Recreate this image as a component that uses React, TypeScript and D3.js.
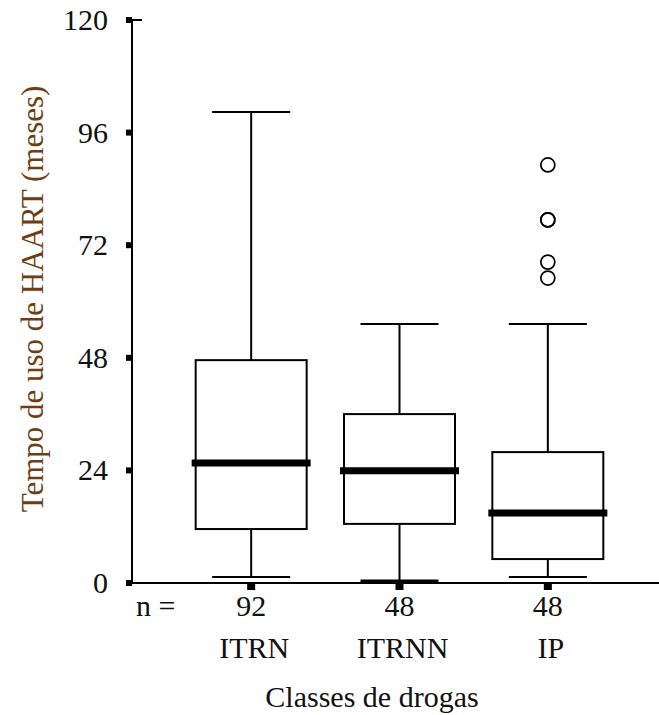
import React from 'react';
import * as d3 from 'd3';

const categories = ['ITRN', 'ITRNN', 'IP'];
const counts = [92, 48, 48];
const lowerWhisker = [1.3, 0.3, 1.3];
const q1 = [11.5, 12.6, 5.1];
const medians = [25.6, 23.9, 14.9];
const q3 = [47.5, 36.0, 27.9];
const upperWhisker = [100.4, 55.2, 55.2];
const outliers = [[], [], [89.1, 77.4, 77.4, 68.4, 65.0]];
const yTicks = [0, 24, 48, 72, 96, 120];

const FONT = 'Liberation Serif';
const FS = 30;
const W = 659;
const H = 715;
const axisX = 132;
const axisY = 583;

const y = d3.scaleLinear().domain([0, 120]).range([axisY, 20]);
const x = d3.scaleBand().domain(categories).range([177, 622]).padding(0);
const cx = (c: string) => (x(c) as number) + x.bandwidth() / 2;

const boxW = 111;
const capW = 78;

const BoxPlot = () => {
  const data = categories.map((c, i) => ({
    c,
    n: counts[i],
    lo: lowerWhisker[i],
    q1: q1[i],
    med: medians[i],
    q3: q3[i],
    hi: upperWhisker[i],
    out: outliers[i],
  }));

  return (
    <svg width={W} height={H} style={{ position: 'absolute', left: 0, top: 0, background: '#fff' }}>
      {data.map(d => {
        const m = cx(d.c);
        return (
          <g key={d.c}>
            {/* whiskers */}
            <line x1={m} x2={m} y1={y(d.q1)} y2={y(d.lo)} stroke="#000" strokeWidth={2} />
            <line x1={m} x2={m} y1={y(d.q3)} y2={y(d.hi)} stroke="#000" strokeWidth={2} />
            <line x1={m - capW / 2} x2={m + capW / 2} y1={y(d.lo)} y2={y(d.lo)} stroke="#000" strokeWidth={d.lo < 1 ? 4 : 2} />
            <line x1={m - capW / 2} x2={m + capW / 2} y1={y(d.hi)} y2={y(d.hi)} stroke="#000" strokeWidth={2} />
            {/* box */}
            <rect x={m - boxW / 2} y={y(d.q3)} width={boxW} height={y(d.q1) - y(d.q3)} fill="#fff" stroke="#000" strokeWidth={2} />
            <line x1={m - boxW / 2 - 4} x2={m + boxW / 2 + 4} y1={y(d.med)} y2={y(d.med)} stroke="#000" strokeWidth={7} />
            {d.out.map((v, j) => (
              <circle key={j} cx={m} cy={y(v)} r={7} fill="none" stroke="#000" strokeWidth={1.7} />
            ))}
          </g>
        );
      })}

      {/* axes */}
      <line x1={axisX} x2={axisX} y1={y(120)} y2={axisY} stroke="#000" strokeWidth={2} />
      <line x1={axisX} x2={W} y1={axisY} y2={axisY} stroke="#000" strokeWidth={2} />
      <line x1={axisX} x2={axisX + 10} y1={y(120)} y2={y(120)} stroke="#000" strokeWidth={2} />

      {yTicks.map(t => (
        <g key={t}>
          <rect x={axisX - 6} y={y(t) - 3} width={6} height={6} fill="#000" />
          <text x={108} y={y(t)} dy="0.33em" textAnchor="end" fontFamily={FONT} fontSize={FS} fill="#111">{t}</text>
        </g>
      ))}

      {data.map(d => (
        <g key={d.c}>
          <rect x={cx(d.c) - 4} y={axisY} width={8} height={7} fill="#000" />
          <text x={cx(d.c)} y={616} textAnchor="middle" fontFamily={FONT} fontSize={FS} fill="#111">{d.n}</text>
          <text x={cx(d.c) + 3} y={658} textAnchor="middle" fontFamily={FONT} fontSize={FS} fill="#111">{d.c}</text>
        </g>
      ))}

      <text x={136} y={616} fontFamily={FONT} fontSize={FS} fill="#111">n =</text>
      <text x={372} y={707} textAnchor="middle" fontFamily={FONT} fontSize={FS} fill="#111">Classes de drogas</text>
      <text transform="translate(43,299) rotate(-90)" textAnchor="middle" fontFamily={FONT} fontSize={31} fill="#6e3e12">
        Tempo de uso de HAART (meses)
      </text>
    </svg>
  );
};

export default function App() {
  return <BoxPlot />;
}
